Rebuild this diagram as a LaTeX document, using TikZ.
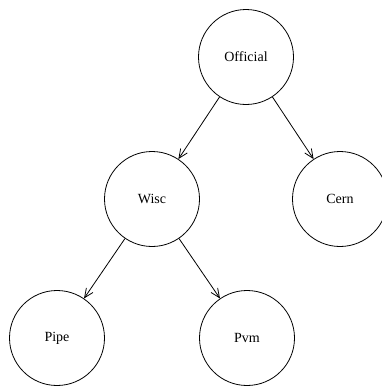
\documentclass[tikz,border=0pt]{standalone}
\usepackage{fontspec}
\setmainfont{Liberation Serif}
\usetikzlibrary{arrows.meta}
\begin{document}
\begin{tikzpicture}[x=1pt,y=-1pt,
  site/.style={draw, circle, minimum size=95pt, inner sep=0pt, line width=0.8pt,
    font=\fontsize{14}{16}\selectfont},
  link/.style={line width=0.8pt, -{Straight Barb[length=9pt,width=8pt,line width=0.8pt]}}]
  \useasboundingbox (0,0) rectangle (381,386);
  \node[site] (official) at (246,57)  {Official};
  \node[site] (wisc)     at (152,199) {Wisc};
  \node[site] (cern)     at (340,199) {Cern};
  \node[site] (pipe)     at (57,338)  {Pipe};
  \node[site] (pvm)      at (247,338) {Pvm};
  \draw[link] (official) -- (wisc);
  \draw[link] (official) -- (cern);
  \draw[link] (wisc) -- (pipe);
  \draw[link] (wisc) -- (pvm);
\end{tikzpicture}
\end{document}
